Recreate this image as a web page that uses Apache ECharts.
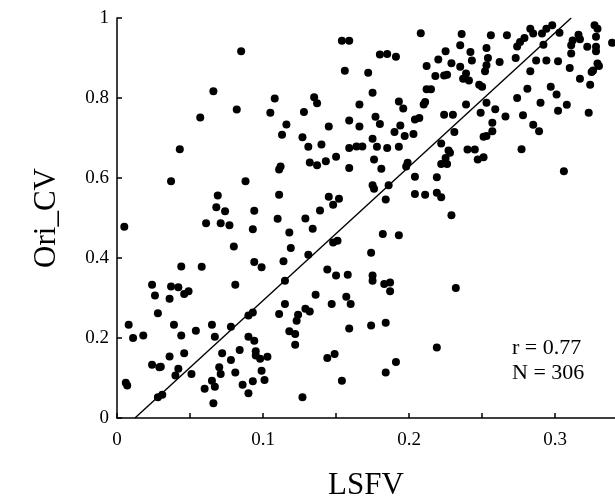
<!DOCTYPE html>
<html>
<head>
<meta charset="utf-8">
<script src="https://cdn.jsdelivr.net/npm/echarts@6/dist/echarts.min.js"></script>
<style>
html,body{margin:0;padding:0;background:#fff;}
#chart{width:615px;height:497px;}
</style>
</head>
<body>
<div id="chart"></div>
<script>
// LSFV (x) and Ori_CV (y) values
const lsfv = [
0.066,0.057,0.082,0.043,
0.085,0.154,0.159,0.156,0.108,0.135,0.137,0.105,0.128,0.166,0.116,0.113,0.127,0.145,0.159,0.166,0.131,0.140,0.159,0.164,
0.208,0.236,0.180,0.185,0.191,0.235,0.225,0.242,0.220,0.229,0.243,0.212,0.235,0.172,0.218,0.224,0.226,0.239,0.237,0.241,0.248,0.250,0.175,0.212,0.215,0.193,0.196,0.211,0.210,0.239,0.249,0.224,0.230,0.177,0.180,0.204,0.207,0.194,0.190,0.203,0.197,0.231,0.251,0.175,0.168,0.178,0.185,0.193,0.222,0.227,0.240,0.245,
0.327,0.329,0.298,0.294,0.283,0.285,0.291,0.303,0.256,0.267,0.279,0.276,0.274,0.292,0.316,0.312,0.317,0.311,0.322,0.328,0.328,0.328,0.339,0.253,0.311,0.254,0.262,0.273,0.287,0.294,0.302,0.329,0.330,0.326,0.325,0.253,0.252,0.310,0.283,0.317,0.324,0.297,0.281,0.301,0.274,0.290,0.253,0.259,0.308,0.302,0.266,0.278,0.323,0.257,0.285,0.289,0.257,0.253,0.277,
0.251,0.306,
0.037,0.069,0.068,0.074,0.061,0.071,0.077,0.005,0.080,0.044,0.058,0.024,0.037,0.042,0.081,
0.049,0.046,0.026,0.036,0.028,0.008,0.039,0.011,0.018,0.044,0.054,0.065,0.067,0.078,0.036,0.046,0.024,0.029,0.030,0.042,0.040,0.051,0.072,0.078,0.070,0.071,0.081,0.007,0.006,0.065,0.060,0.067,0.028,0.031,0.066,
0.136,0.115,0.111,0.129,0.132,0.124,0.123,0.147,0.157,0.160,0.159,0.090,0.093,0.118,0.122,0.122,0.090,0.094,0.084,0.095,0.095,0.098,0.103,0.144,0.149,0.099,0.101,0.093,0.086,0.090,0.127,0.154,
0.132,0.137,0.143,0.150,0.159,0.112,0.111,0.088,0.111,0.145,0.152,0.148,0.139,0.094,0.110,0.129,0.093,0.134,0.118,0.148,0.151,0.119,0.131,0.094,0.099,0.114,0.144,0.150,0.158,0.115,
0.176,0.181,0.199,0.198,0.228,0.225,0.222,0.226,0.247,0.204,0.219,0.175,0.176,0.186,0.184,0.204,0.211,0.219,0.222,0.229,0.182,0.193,0.174,0.175,0.175,0.183,0.187,0.232,
0.187,0.174,0.184,0.219,0.191,0.184
];
const oriCv = [
0.817,0.751,0.771,0.672,
0.917,0.943,0.943,0.868,0.799,0.802,0.787,0.763,0.765,0.784,0.734,0.708,0.702,0.729,0.744,0.729,0.678,0.684,0.675,0.679,
0.962,0.960,0.909,0.910,0.903,0.932,0.917,0.915,0.896,0.887,0.894,0.880,0.878,0.863,0.855,0.856,0.858,0.861,0.848,0.844,0.833,0.828,0.813,0.822,0.822,0.791,0.774,0.790,0.784,0.784,0.763,0.758,0.758,0.753,0.735,0.746,0.750,0.731,0.715,0.710,0.705,0.715,0.703,0.698,0.679,0.678,0.675,0.678,0.686,0.669,0.671,0.671,
0.982,0.973,0.982,0.973,0.973,0.961,0.961,0.963,0.957,0.957,0.950,0.940,0.929,0.933,0.958,0.944,0.947,0.932,0.928,0.953,0.928,0.917,0.938,0.925,0.911,0.900,0.890,0.900,0.894,0.894,0.892,0.886,0.880,0.869,0.865,0.882,0.867,0.875,0.867,0.848,0.833,0.828,0.823,0.809,0.800,0.788,0.788,0.772,0.783,0.768,0.754,0.757,0.763,0.738,0.733,0.717,0.717,0.705,0.672,
0.652,0.617,
0.592,0.556,0.527,0.517,0.487,0.487,0.482,0.478,0.429,0.379,0.378,0.333,0.329,0.327,0.333,
0.317,0.310,0.306,0.298,0.262,0.233,0.233,0.200,0.206,0.206,0.218,0.233,0.203,0.228,0.154,0.162,0.133,0.127,0.128,0.123,0.106,0.110,0.162,0.145,0.127,0.110,0.114,0.081,0.088,0.093,0.073,0.078,0.052,0.058,0.037,
0.308,0.285,0.260,0.273,0.266,0.258,0.243,0.285,0.303,0.285,0.224,0.256,0.264,0.217,0.210,0.183,0.203,0.193,0.170,0.167,0.156,0.148,0.153,0.150,0.160,0.118,0.095,0.092,0.083,0.062,0.052,0.093,
0.639,0.632,0.642,0.653,0.625,0.629,0.621,0.592,0.558,0.553,0.548,0.533,0.519,0.518,0.498,0.499,0.472,0.473,0.464,0.439,0.443,0.425,0.408,0.390,0.377,0.392,0.371,0.356,0.358,0.343,
0.646,0.623,0.638,0.629,0.663,0.650,0.635,0.635,0.646,0.603,0.602,0.582,0.573,0.582,0.546,0.560,0.558,0.563,0.552,0.507,0.460,0.457,0.413,0.356,0.343,0.335,0.339,0.325,
0.317,0.231,0.238,0.176,0.140,0.114
];
// fitted regression line end points
const fitX = [0.0123, 0.311];
const fitY = [0, 1];
const xTicks = ['0', '0.1', '0.2', '0.3'];
const statsText = ['r = 0.77', 'N = 306'];

const font = 'Liberation Serif, Times New Roman, serif';
const chart = echarts.init(document.getElementById('chart'));
chart.setOption({
  animation: false,
  grid: {left: 117, right: 0, top: 18, bottom: 79, containLabel: false, outerBoundsMode: 'none'},
  xAxis: {
    type: 'value', min: 0, max: 0.341, interval: 0.05,
    name: 'LSFV', nameLocation: 'middle', nameGap: 52,
    nameTextStyle: {fontFamily: font, fontSize: 31, color: '#000'},
    axisLine: {show: true, onZero: false, lineStyle: {color: '#000', width: 1.5}},
    axisTick: {show: true, inside: true, length: 5, lineStyle: {color: '#000', width: 1.5}},
    axisLabel: {
      fontFamily: font, fontSize: 19, color: '#000', margin: 13, showMaxLabel: false,
      formatter: function (v) {
        const k = Math.round(v * 100);
        if (k % 10 !== 0) return '';
        const s = xTicks[k / 10];
        return s === undefined ? '' : s;
      }
    },
    splitLine: {show: false}
  },
  yAxis: {
    type: 'value', min: 0, max: 1, interval: 0.2,
    name: 'Ori_CV', nameLocation: 'middle', nameGap: 55,
    nameTextStyle: {fontFamily: font, fontSize: 31, color: '#000'},
    axisLine: {show: true, lineStyle: {color: '#000', width: 1.5}},
    axisTick: {show: true, inside: true, length: 5, lineStyle: {color: '#000', width: 1.5}},
    axisLabel: {fontFamily: font, fontSize: 19, color: '#000', margin: 8, padding: [5, 0, 0, 0]},
    splitLine: {show: false}
  },
  graphic: [{
    type: 'text', left: 512, top: 336,
    style: {text: statsText.join('\n'), font: '22px ' + font, fill: '#000', lineHeight: 25}
  }],
  series: [{
    type: 'scatter', symbol: 'circle', symbolSize: 8,
    itemStyle: {color: '#000', opacity: 1},
    data: lsfv.map((x, i) => [x, oriCv[i]])
  }, {
    type: 'line', symbol: 'none', silent: true,
    lineStyle: {color: '#000', width: 1.4},
    data: fitX.map((x, i) => [x, fitY[i]])
  }]
});
</script>
</body>
</html>
